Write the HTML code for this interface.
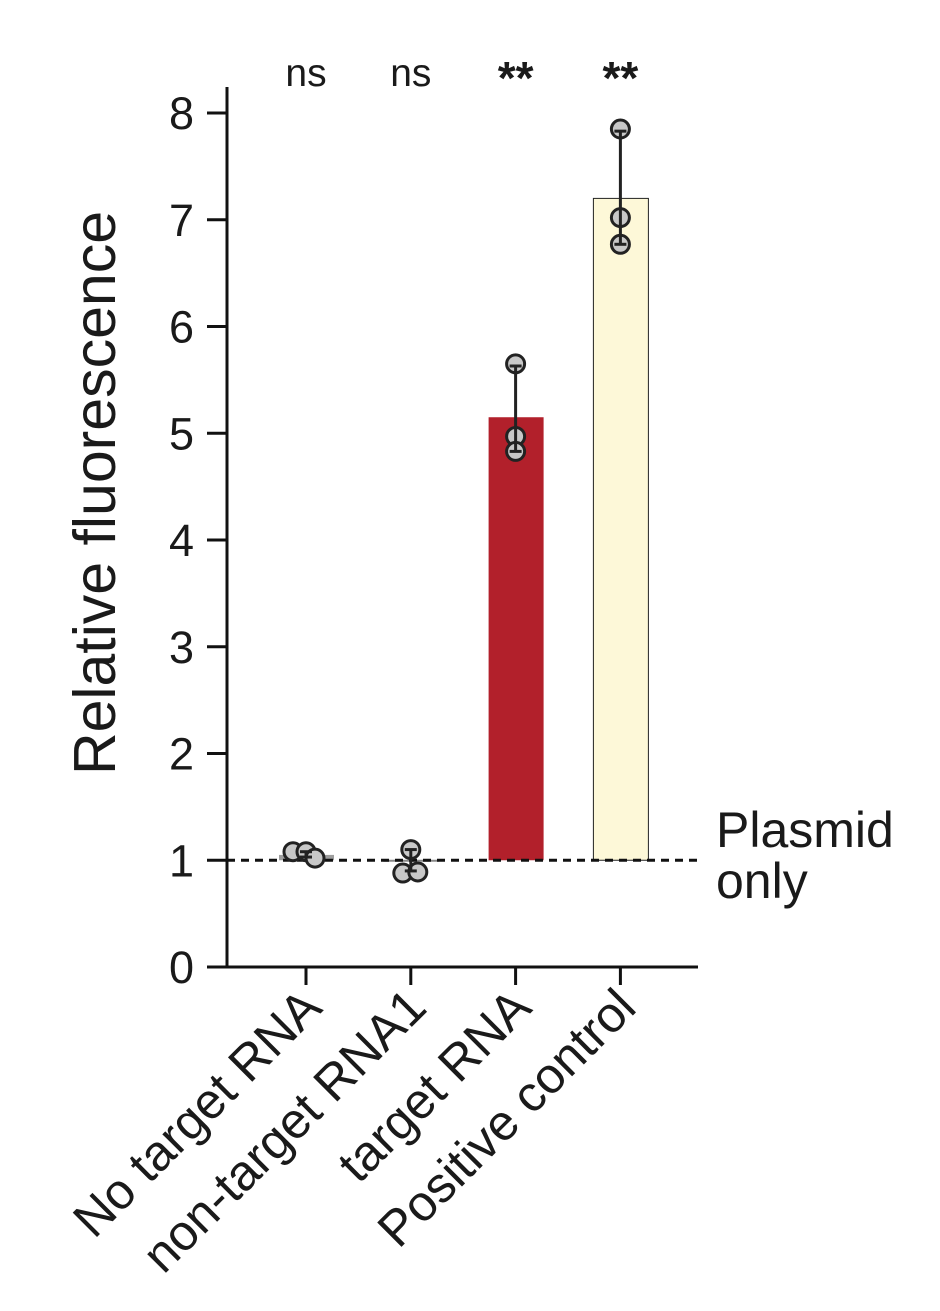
<!DOCTYPE html>
<html><head><meta charset="utf-8"><style>
body{margin:0;background:#fff;}
svg text{font-family:"Liberation Sans",Arial,sans-serif;fill:#1a1a1a;}
</style></head><body>
<svg width="940" height="1306" viewBox="0 0 940 1306" id="chart">
</svg>
<script>
const categories=["No target RNA","non-target RNA1","target RNA","Positive control"];
const barValues=[1.05,1.0,5.15,7.2];
const points=[[1.08,1.08,1.02],[1.1,0.88,0.89],[5.65,4.97,4.83],[7.85,7.02,6.77]];
const errLow=[1.03,0.90,4.83,6.77];
const errHigh=[1.08,1.10,5.63,7.83];
const sig=["ns","ns","**","**"];
const yTicks=[0,1,2,3,4,5,6,7,8];
const fills=["#9e9e9e","#ffffff","#b2202b","#fdf8d8"];
const NS="http://www.w3.org/2000/svg";
const svg=document.getElementById('chart');
const y=v=>967-v*106.75;
const x=i=>306+i*104.8;
function mk(t,a,p){const e=document.createElementNS(NS,t);for(const k in a)e.setAttribute(k,a[k]);(p||svg).appendChild(e);return e;}
let ax=mk('line',{x1:227,y1:87,x2:227,y2:968,stroke:'#111','stroke-width':3});


let bx=mk('line',{x1:207,y1:967,x2:698,y2:967,stroke:'#111','stroke-width':3});


yTicks.forEach(t=>{
  let l=mk('line',{x1:207,x2:227,y1:y(t),y2:y(t),stroke:'#111','stroke-width':3});
  
  
  let tx=mk('text',{x:194,y:y(t)+16,'text-anchor':'end','font-size':45});
  tx.textContent=t;
  
  
});
let yt=mk('text',{x:0,y:0,'font-size':59,'text-anchor':'middle',transform:'translate(115,493) rotate(-90)'});
yt.textContent='Relative fluorescence';


categories.forEach((c,i)=>{
  const cx=x(i);
  const top=y(Math.max(barValues[i],1)),bot=y(Math.min(barValues[i],1));
  let b=mk('rect',{x:cx-27,y:top,width:55,height:Math.max(bot-top,1),fill:fills[i],stroke:i==3?'#222':(i==1?'#888':'none'),'stroke-width':1});
  
  
  let tk=mk('line',{x1:cx,x2:cx,y1:967,y2:985,stroke:'#111','stroke-width':3});
  
  
  let lb=mk('text',{x:0,y:0,'font-size':50,'text-anchor':'end',transform:`translate(${cx+18},${1010}) rotate(-45)`});
  lb.textContent=c;
  
  
  let s=mk('text',{x:cx,y:i>1?94:86,'font-size':i>1?46:39,'text-anchor':'middle','font-weight':i>1?'bold':'normal'});
  s.textContent=sig[i];
  
  
});
let d=mk('line',{x1:227,x2:698,y1:y(1),y2:y(1),stroke:'#111','stroke-width':3,'stroke-dasharray':'8,6'});


const offs=[-13,0,9];
points.forEach((ps,i)=>{
  const cx=x(i);
  ps.forEach((v,j)=>{
    let o=i==1?[0,-8,7][j]:(i>1?0:offs[j]);
    let c=mk('circle',{cx:cx+o,cy:y(v),r:9,fill:'#c8c8c8',stroke:'#222','stroke-width':3});
    
    
  });
  let g=mk('g',{stroke:'#222','stroke-width':3});
  
  
  mk('line',{x1:cx,x2:cx,y1:y(errLow[i]),y2:y(errHigh[i])},g);
  mk('line',{x1:cx-6,x2:cx+6,y1:y(errLow[i]),y2:y(errLow[i])},g);
  mk('line',{x1:cx-6,x2:cx+6,y1:y(errHigh[i]),y2:y(errHigh[i])},g);
});
let p1=mk('text',{x:716,y:847,'font-size':50});p1.textContent='Plasmid';


let p2=mk('text',{x:716,y:898,'font-size':50});p2.textContent='only';


</script>
</body></html>
